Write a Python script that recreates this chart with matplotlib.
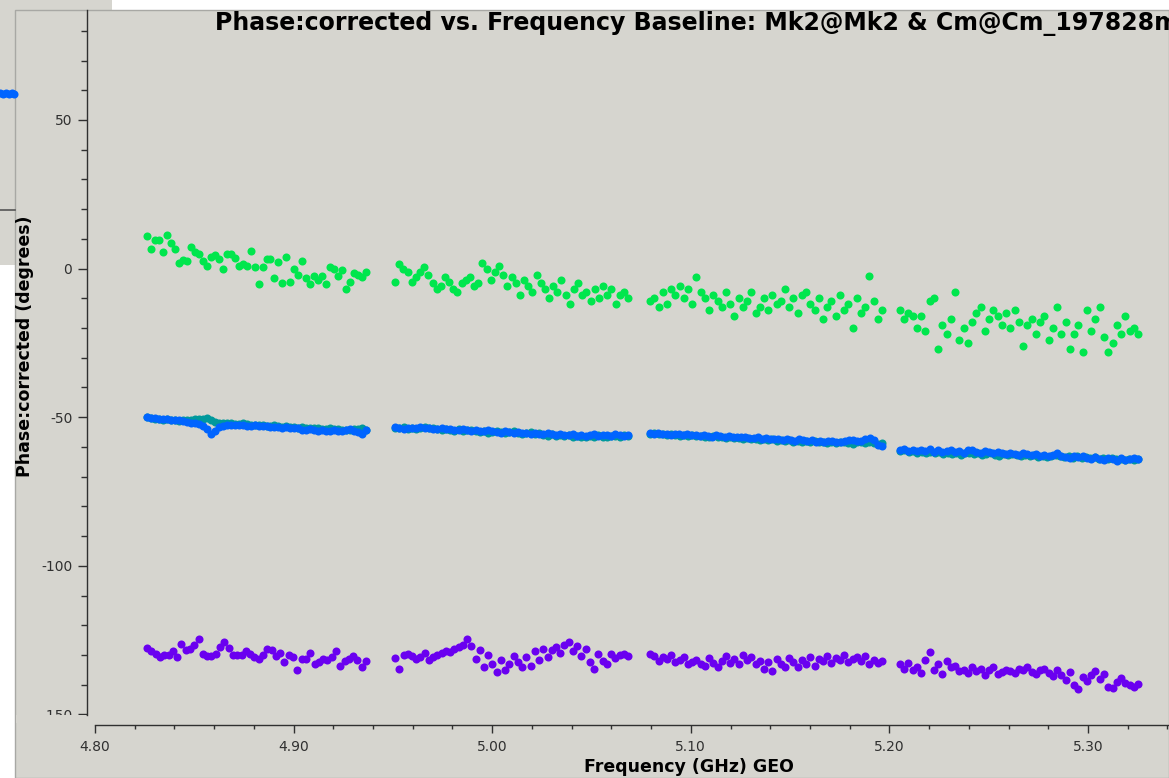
import numpy as np
import matplotlib
matplotlib.use("Agg")
import matplotlib.pyplot as plt
from matplotlib.patches import Rectangle
from matplotlib.ticker import MultipleLocator, FormatStrFormatter

plt.rcParams["axes.unicode_minus"] = False

# ---------------- data ----------------
# frequency range covered by the (unflagged) channels of each spw, GHz
spw_lo = [4.8262, 4.9511, 5.0795, 5.2053]
spw_hi = [4.9365, 5.0684, 5.1963, 5.3252]

green = [
    [10.9, 6.5, 9.5, 9.5, 5.5, 11.2, 8.5, 6.5, 1.8, 2.8, 2.5, 7.2, 5.5, 5.0, 2.5, 0.8,
     3.8, 4.5, 3.1, 0.0, 4.8, 4.8, 3.5, 0.8, 1.5, 0.8, 5.8, 0.4, -5.3, 0.4, 3.1, 3.1,
     -3.3, 2.1, -5.0, 3.8, -4.6, 0.0, -2.3, 2.5, -3.3, -5.3, -2.6, -4.0, -2.6, -5.3,
     0.4, 0.0, -2.6, -0.6, -7.0, -4.6, -1.6, -2.0, -3.0, -1.0],
    [-4.6, 1.5, -0.2, -1.2, -4.6, -3.0, -1.0, 0.5, -2.0, -5.0, -7.0, -6.0, -3.0, -4.5,
     -7.0, -8.0, -5.0, -4.0, -3.0, -6.0, -5.0, 2.0, 0.0, -4.0, -1.0, 1.0, -2.0, -6.0,
     -3.0, -5.0, -9.0, -4.0, -6.0, -8.0, -2.0, -5.0, -7.0, -10.0, -6.0, -8.0, -4.0,
     -9.0, -12.0, -7.0, -5.0, -9.0, -8.0, -11.0, -7.0, -10.0, -6.0, -9.0, -7.0, -12.0,
     -9.0, -8.0, -10.0],
    [-11.0, -10.0, -13.0, -8.0, -12.0, -7.0, -9.0, -6.0, -10.0, -7.0, -12.0, -3.0, -8.0,
     -10.0, -14.0, -9.0, -11.0, -13.0, -8.0, -12.0, -16.0, -10.0, -13.0, -11.0, -8.0,
     -15.0, -13.0, -10.0, -14.0, -9.0, -12.0, -11.0, -7.0, -13.0, -10.0, -15.0, -9.0,
     -8.0, -12.0, -14.0, -10.0, -17.0, -13.0, -11.0, -16.0, -9.0, -14.0, -12.0, -20.0,
     -10.0, -15.0, -13.0, -2.5, -11.0, -17.0, -14.0],
    [-14.0, -17.0, -15.0, -16.0, -20.0, -16.0, -21.0, -11.0, -10.0, -27.0, -19.0, -22.0,
     -17.0, -8.0, -24.0, -20.0, -25.0, -18.0, -15.0, -13.0, -21.0, -17.0, -14.0, -16.0,
     -19.0, -15.0, -20.0, -14.0, -18.0, -26.0, -19.0, -17.0, -22.0, -18.0, -16.0, -24.0,
     -20.0, -13.0, -22.0, -18.0, -27.0, -22.0, -19.0, -28.0, -14.0, -21.0, -17.0, -13.0,
     -23.0, -28.0, -25.0, -19.0, -22.0, -16.0, -21.0, -20.0, -22.0],
]

teal = [
    [-50.1, -50.3, -50.6, -50.5, -50.8, -50.7, -51.0, -50.9, -51.2, -51.0, -50.8, -50.9,
     -50.6, -50.7, -50.5, -50.3, -51.0, -51.5, -51.8, -51.9, -52.1, -52.0, -52.2, -52.3,
     -52.1, -52.4, -52.6, -52.5, -52.7, -52.6, -52.8, -52.9, -52.7, -53.0, -53.2, -53.1,
     -53.3, -53.2, -53.5, -53.4, -53.6, -53.5, -53.8, -53.7, -53.9, -54.0, -53.8, -54.1,
     -54.0, -54.3, -54.2, -54.4, -54.1, -54.0, -53.8, -54.2],
    [-53.8, -53.5, -53.4, -53.9, -53.6, -53.9, -53.7, -53.4, -53.8, -53.6, -54.1, -54.3,
     -53.9, -54.2, -54.5, -54.1, -54.6, -54.4, -54.2, -54.8, -55.0, -54.6, -55.3, -54.9,
     -54.6, -55.0, -55.4, -55.0, -54.8, -55.3, -55.6, -55.2, -55.0, -55.7, -55.4, -55.9,
     -56.2, -55.8, -56.3, -55.9, -56.4, -56.0, -56.6, -56.2, -56.5, -56.8, -56.3, -56.6,
     -56.1, -56.5, -56.8, -56.2, -56.4, -56.7, -56.0, -56.3],
    [-55.6, -55.3, -55.8, -55.6, -56.0, -55.7, -55.9, -56.2, -55.9, -56.3, -56.0, -56.4,
     -56.2, -56.5, -56.7, -56.4, -56.8, -56.6, -57.0, -56.7, -57.1, -56.9, -57.3, -57.0,
     -57.4, -57.2, -57.6, -57.3, -57.7, -57.5, -57.9, -57.6, -58.0, -57.8, -58.2, -57.9,
     -58.3, -58.0, -58.4, -58.1, -58.5, -58.2, -58.6, -58.3, -58.7, -58.4, -58.2, -58.6,
     -58.9, -58.5, -58.3, -58.7, -58.4, -58.8, -59.0, -58.6],
    [-61.5, -61.1, -61.7, -61.3, -61.9, -61.6, -62.0, -61.8, -62.2, -61.6, -62.3, -61.9,
     -62.4, -62.1, -62.6, -62.2, -62.0, -62.5, -62.2, -62.7, -62.4, -62.1, -62.6, -62.9,
     -62.5, -62.8, -62.3, -62.7, -63.0, -62.6, -63.1, -62.8, -63.3, -62.9, -63.4, -63.0,
     -62.8, -63.2, -63.5, -63.1, -63.6, -63.2, -63.7, -63.4, -63.8, -63.5, -64.0, -63.6,
     -64.1, -63.7, -64.2, -63.9, -64.4, -64.0, -64.5, -64.1],
]

blue = [
    [-50.0, -50.2, -50.3, -50.5, -50.6, -50.7, -50.8, -51.0, -51.1, -51.2, -51.6, -51.8,
     -52.0, -52.3, -52.8, -54.0, -55.5, -54.5, -53.3, -52.8, -52.7, -52.6, -52.7, -52.5,
     -52.6, -52.8, -52.9, -52.7, -53.0, -53.1, -53.0, -53.2, -53.4, -53.3, -53.5, -53.4,
     -53.6, -53.8, -53.7, -54.2, -54.4, -54.0, -54.3, -54.5, -54.2, -54.6, -54.8, -54.4,
     -54.5, -54.7, -54.3, -54.1, -54.5, -54.9, -55.6, -54.2],
    [-53.4, -53.6, -53.9, -53.5, -53.8, -53.6, -53.3, -53.7, -53.5, -53.9, -54.0, -53.8,
     -54.1, -53.9, -54.2, -54.4, -54.0, -54.3, -54.6, -54.2, -54.5, -54.8, -54.4, -54.7,
     -54.9, -55.2, -54.8, -55.1, -55.3, -55.0, -55.4, -55.2, -55.6, -55.3, -55.5, -55.8,
     -55.4, -55.7, -56.0, -55.6, -55.9, -56.1, -55.7, -56.2, -55.9, -56.3, -56.0, -55.8,
     -56.4, -56.1, -55.9, -56.2, -55.8, -56.0, -56.3, -56.1],
    [-55.2, -55.6, -55.4, -55.8, -55.5, -55.9, -55.7, -55.6, -56.0, -55.8, -56.1, -55.9,
     -56.3, -56.0, -56.2, -56.5, -56.1, -56.4, -56.6, -56.3, -56.7, -56.5, -56.8, -56.6,
     -56.9, -57.1, -56.8, -57.2, -57.0, -57.3, -57.5, -57.2, -57.6, -57.4, -57.7, -57.9,
     -57.5, -57.8, -58.1, -57.8, -58.2, -58.0, -58.3, -58.1, -57.9, -58.4, -58.2, -58.0,
     -57.8, -57.6, -57.9, -58.1, -57.3, -56.9, -57.8, -59.3, -59.8],
    [-61.2, -60.8, -61.4, -60.9, -61.5, -61.0, -61.3, -60.6, -61.6, -61.1, -61.8, -61.3,
     -61.0, -61.7, -61.4, -61.9, -61.2, -60.9, -61.6, -62.0, -61.5, -61.8, -62.2, -61.7,
     -62.1, -62.4, -61.9, -62.3, -62.6, -62.1, -62.5, -62.8, -62.4, -62.9, -62.6, -63.1,
     -62.7, -62.2, -62.9, -63.3, -63.6, -63.1, -63.5, -63.0, -63.8, -64.2, -63.4, -63.9,
     -64.4, -63.7, -64.1, -64.6, -63.8, -64.3, -64.0, -63.7, -64.2],
]

purple = [
    [-127.6, -128.6, -129.6, -130.6, -130.0, -130.0, -128.6, -130.6, -126.2, -128.3,
     -127.9, -126.6, -124.6, -129.6, -130.3, -130.3, -129.6, -127.2, -125.5, -127.6,
     -130.0, -130.0, -130.0, -128.6, -129.6, -130.6, -131.2, -130.0, -128.0, -128.3,
     -130.3, -129.3, -132.2, -130.0, -130.6, -135.0, -131.2, -131.2, -129.3, -132.9,
     -132.2, -131.2, -131.6, -130.6, -128.6, -133.6, -131.9, -131.2, -130.3, -131.6,
     -133.9, -131.9],
    [-130.9, -134.6, -130.0, -129.6, -130.3, -131.2, -130.6, -129.3, -131.6, -130.6,
     -130.0, -129.3, -128.6, -129.0, -128.0, -127.2, -126.5, -124.6, -126.9, -131.2,
     -128.3, -134.2, -130.0, -132.9, -135.9, -131.6, -134.9, -133.2, -130.3, -132.2,
     -134.2, -130.6, -133.6, -128.6, -131.6, -127.9, -130.6, -128.3, -127.2, -129.3,
     -126.5, -125.8, -128.6, -126.9, -130.3, -128.0, -132.2, -134.6, -129.6, -131.9,
     -133.2, -129.6, -130.9, -130.0, -129.6, -130.3],
    [-129.6, -130.3, -131.9, -130.6, -131.2, -130.0, -132.2, -131.6, -130.6, -133.2,
     -132.2, -131.6, -132.9, -133.6, -130.9, -132.6, -134.2, -131.9, -130.3, -132.6,
     -131.2, -132.9, -130.0, -131.6, -130.6, -133.2, -131.9, -134.6, -132.2, -135.5,
     -131.2, -132.9, -133.9, -130.9, -132.2, -134.2, -131.6, -132.9, -130.6, -133.6,
     -131.2, -131.9, -130.3, -132.6, -130.9, -131.6, -130.0, -132.2, -131.2, -130.6,
     -131.9, -130.3, -132.9, -131.6, -132.6, -131.9],
    [-133.2, -134.6, -132.6, -135.2, -133.9, -136.2, -131.6, -128.9, -134.9, -133.2,
     -136.5, -131.9, -134.2, -133.6, -135.5, -134.9, -136.2, -133.9, -135.5, -134.6,
     -136.9, -135.2, -134.2, -136.5, -135.9, -134.9, -135.5, -136.2, -134.6, -135.2,
     -134.2, -135.9, -136.5, -135.2, -134.6, -136.2, -137.2, -134.9, -136.9, -138.5,
     -135.9, -140.2, -141.5, -137.5, -138.9, -136.9, -135.5, -138.2, -136.5, -140.8,
     -141.2, -139.2, -137.9, -139.5, -140.2, -140.8, -139.9],
]

# bit of the neighbouring plot window visible at the far left (pixels)
side_x = [0, 3, 6, 9, 12, 14]
side_y = [93, 94, 93, 94, 93, 94]

# ---------------- style ----------------
W, H = 1169, 778
bg = "#d6d5cf"
col_green = "#00e64d"
col_teal = "#00999c"
col_blue = "#0064ff"
col_purple = "#6a00f0"
ink = "#303030"

fig = plt.figure(figsize=(W / 100, H / 100), dpi=100, facecolor="white")

# screenshot background: windows behind the plot
back = fig.add_axes([0, 0, 1, 1], zorder=-1)
back.set_xlim(0, W)
back.set_ylim(H, 0)
back.axis("off")
back.add_patch(Rectangle((0, 0), 112, 265, facecolor=bg, edgecolor="none"))
back.plot([0, 15], [210, 210], color="#555555", lw=1.2)
back.plot(side_x, side_y, "o", color=col_blue, ms=5.8, mec="none")
back.add_patch(Rectangle((15, 10), W - 15, H - 10, facecolor=bg, edgecolor="#a8a8a4", lw=1))

# main plot area (pixel box: x 95..1169, y 10..715)
ax = fig.add_axes([95 / W, (H - 715) / H, (W - 95) / W, 705 / H])
ax.patch.set_visible(False)

def spw_freqs(i, n):
    return np.linspace(spw_lo[i], spw_hi[i], n)

for series, c in [(green, col_green), (teal, col_teal), (blue, col_blue), (purple, col_purple)]:
    for i, vals in enumerate(series):
        ax.plot(spw_freqs(i, len(vals)), vals, "o", color=c, ms=5.8, mec="none", lw=0)

ax.set_xlim(4.80, 5.3408)
ax.set_ylim(-150.2, 87.0)

for s in ["top", "right"]:
    ax.spines[s].set_visible(False)
ax.spines["bottom"].set_position(("outward", 7.2))
ax.spines["left"].set_position(("outward", 5.8))
for s in ["bottom", "left"]:
    ax.spines[s].set_color(ink)
    ax.spines[s].set_linewidth(1.0)

ax.xaxis.set_major_locator(MultipleLocator(0.1))
ax.xaxis.set_minor_locator(MultipleLocator(0.02))
ax.xaxis.set_major_formatter(FormatStrFormatter("%.2f"))
ax.yaxis.set_major_locator(MultipleLocator(50))
ax.yaxis.set_minor_locator(MultipleLocator(10))
ax.tick_params(axis="x", which="major", length=6, width=1, color=ink, labelcolor=ink,
               labelsize=10, pad=5)
ax.tick_params(axis="x", which="minor", length=3, width=1, color=ink)
ax.tick_params(axis="y", which="major", length=6.5, width=1, color=ink, labelcolor=ink,
               labelsize=10, pad=4)
ax.tick_params(axis="y", which="minor", length=4.3, width=1, color=ink)

# the y-axis strip ends at the axis bottom, cutting the -150 label
fig.add_artist(Rectangle((16 / W, (H - 723) / H), (86 - 16) / W, 8 / H,
                         transform=fig.transFigure, facecolor=bg, edgecolor="none", zorder=10))

fig.text(215 / W, 1 - 24 / H,
         "Phase:corrected vs. Frequency Baseline: Mk2@Mk2 & Cm@Cm_197828m",
         ha="left", va="center", fontsize=17, fontweight="bold", color="black")
fig.text(689 / W, 1 - 767 / H, "Frequency (GHz) GEO", ha="center", va="center",
         fontsize=12.5, fontweight="bold", color="black", zorder=11)
fig.text(25 / W, 1 - 346 / H, "Phase:corrected (degrees)", ha="center", va="center",
         rotation=90, fontsize=12.5, fontweight="bold", color="black")

fig.savefig("out.png", dpi=100, facecolor=fig.get_facecolor())
